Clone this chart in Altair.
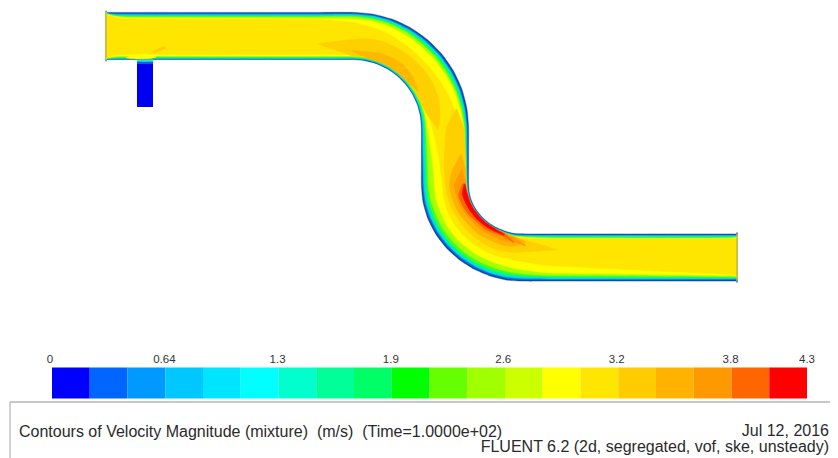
import altair as alt
import pandas as pd
import numpy as np

# --- pipe centreline (pixel-like units) ---
cx = [106,125,240,320,353, 369.0,384.5,399.0,412.1,423.5,432.7,439.5,443.6, 445,445,445,445,
      446.2,449.8,455.7,463.7,473.6,485.0,497.6,511.1, 525,555,720,737]
cy = [36,36,36,36,36, 37.4,41.5,48.3,57.5,68.9,82.0,96.5,112.0, 128,155,170,185,
      197.7,210.0,221.5,231.9,240.9,248.2,253.6,256.9, 257.5,257.5,257.5,257.5]
half_width = 23.6

# contour insets from each wall at every station
wall_colors = ["#0a78e0", "#00d8e8", "#00f59a", "#40ff20", "#a8ff00", "#ffff00", "#ffe600"]
L = [
 [.8,1.2,1.2,1.2,1.2,1.2,1.2,1.4,1.5,1.5,1.5,1.5,1.5,1.2,1,1,.8,.6,.6,.6,.6,.6,.6,.6,.6,.8,1,1,1],
 [1,2.2,2.2,2.2,2,2,2.2,2.4,2.6,2.6,2.6,2.6,2.4,2,1.8,1.6,1.4,1.1,1.1,1.1,1.1,1.1,1.1,1.1,1.4,1.6,1.6,1.6,1.6],
 [1.2,3,3,3,2.8,3,3.2,3.5,3.8,3.8,3.8,3.8,3.4,2.8,2.4,2.2,1.8,1.4,1.4,1.4,1.4,1.4,1.4,1.4,1.8,2.2,2.4,2.6,2.2],
 [1.3,3.8,3.8,3.8,3.7,4.2,4.6,5,5.4,5.4,5.4,5.2,4.6,3.5,3,2.6,2.1,1.7,1.6,1.6,1.6,1.6,1.6,1.7,2.2,2.6,3.2,3.4,2.6],
 [1.4,4.5,4.5,4.5,4.5,5,5.5,6,7,7,7,6.5,5.5,4,3.5,3,2.5,2,1.8,1.8,1.8,1.8,1.8,2,2.5,3,4,4,3],
 [1.6,5,5.5,6,6.5,7,8,9,9.5,9.5,9,8,7,5,4,3.5,3,2.2,2,2,2,2,2,2.2,3,3.5,4.5,4.5,3.5],
 [1.8,6,6.5,7,10,13,15,17,18,18,17,15,12,7,4.5,3.5,3,2.5,2.2,2.2,2.2,2.2,2.2,2.5,3.5,4,5,5,4],
]
R = [
 [.6,.6,.6,.6,.6,.6,.6,.6,.6,.6,.6,.6,.6,.6,.8,1,1.2,1.3,1.4,1.5,1.5,1.5,1.5,1.5,1.4,1.3,1.2,1.2,1.2],
 [.9,1.1,1.1,1.1,1.1,1.1,1.1,1.1,1.1,1.1,1.1,1.1,1.1,1.3,1.7,2,2.3,2.6,3,3,3,3,3,3,3,2.6,2.2,2.2,2.2],
 [1.1,1.7,1.7,1.7,1.7,1.7,1.7,1.7,1.7,1.7,1.7,1.9,2.1,2.5,3,3.4,3.8,4.2,4.5,4.5,4.5,4.5,4.5,4.5,4.5,4,3.4,3,3],
 [1.2,2.3,2.3,2.3,2.3,2.3,2.3,2.3,2.3,2.3,2.3,2.6,3,3.5,4.5,5,5.5,6,6.5,6.5,6.5,6.5,6.5,6.5,6.5,5.5,4.5,3.8,3.5],
 [1.4,3,3,3,3,3,3,3,3,3,3,3.5,4,4.5,6,6.5,7,8,9,9,9,9,9,9,8.5,7,5.5,4.5,4],
 [1.6,3.5,3.5,3.5,3.5,3.5,3.5,3.5,3.5,3.5,4,4.5,5,6,10,12,13,13.5,14,14,14,14,14,14,13,11,8,5.5,4.5],
 [1.8,5,5,5,4.5,4.5,4.5,4,4,4,5,6,8,11,17,19,21,21,21,21,21,21,21,21,21,19,15,7,5.5],
]

# interior contour patches: (colour, first station, insets left, insets right)
patches = [
 ("#ffd000", 3, [31,27,25,24,24,24,24,24,25,27,30], [15,3.5,3.5,3.5,3.5,3.5,3.5,3.5,4,7,16]),
 ("#ffb800", 4, [38,38,36,35,35,37,40], [8,3,2.5,2.5,2.5,3,6]),
 ("#ffd000", 12, [10,5,3,3,2.5,2.5,2.2,2,2,2,2,2.5,3.5,6,15], [36,25,23,23,24,25,26,27,27,27,27,27,28,29,31]),
 ("#ffb300", 14, [7,3,2.5,2.2,2,2,1.8,1.8,1.8,2,3,8], [39,31,28,29,30,31,32,32,33,33,34,38]),
 ("#ff9900", 15, [6,2.5,2,1.8,1.8,1.8,1.8,2,2.5,4,11], [40,33,34,35,36,37,37,38,38,39,35]),
 ("#ff6600", 16, [5,2,1.8,1.6,1.6,1.6,1.8,2,8], [41,36,37,38,40,40,41,42,38]),
 ("#ff0000", 16, [3.5,2,1.8,1.6,1.5,1.5,1.5,3], [42.5,40,41,41.5,42,42.5,43,43]),
]

# small blobs by the side inlet
blob_yellow_x = [126,135,146,156,150,140,130]
blob_yellow_y = [57.5,54.5,54,57,58.5,59,58.5]
blob_orange_x = [153,158,164,166,160,154]
blob_orange_y = [52,49,46.5,47.5,51,53]

# side inlet
inlet_x0, inlet_x1 = 137, 153
inlet_y = [59, 60.5, 62, 64, 107]
inlet_colors = ["#20d090", "#00c8f0", "#0060e8", "#0000f0"]

# colour bar
bar_colors = ["#0000ff","#0066ff","#0099ff","#00c8ff","#00e5ff","#00ffff","#00ffcc","#00ff99","#00ff66","#00ff00",
              "#66ff00","#a0ff00","#ccff00","#ffff00","#ffe600","#ffcc00","#ffb300","#ff9900","#ff6600","#ff0000"]
bar_edges = [0,.215,.43,.645,.86,1.075,1.29,1.505,1.72,1.935,2.15,2.365,2.58,2.795,3.01,3.225,3.44,3.655,3.87,4.085,4.3]
tick_pos = [-.011,.64,1.285,1.93,2.57,3.216,3.865,4.3]
tick_labels = ["0","0.64","1.3","1.9","2.6","3.2","3.8","4.3"]

PW, PH = 822, 450
xs = alt.Scale(domain=[8, 8 + PW], range=[0, PW], nice=False, zero=False)
ys = alt.Scale(domain=[8, 8 + PH], range=[0, PH], nice=False, zero=False)
vs = alt.Scale(domain=[0, 4.3], range=[44, 799], nice=False, zero=False)
X = lambda f="x": alt.X(f"{f}:Q", scale=xs, axis=None)
Y = lambda f="y": alt.Y(f"{f}:Q", scale=ys, axis=None)

cxa, cya = np.array(cx, float), np.array(cy, float)
tx, ty = np.gradient(cxa), np.gradient(cya)
nrm = np.hypot(tx, ty)
nx, ny = ty / nrm, -tx / nrm

def poly(px, py, color):
    df = pd.DataFrame({"x": px, "y": py, "i": range(len(px))})
    return alt.Chart(df).mark_line(fill=color, stroke=color, strokeWidth=0.4, strokeJoin="round",
                                   interpolate="cardinal-closed", tension=0.45).encode(
        x=X(), y=Y(), order="i:Q")

def band(start, lft, rgt, color):
    idx = np.arange(start, start + len(lft))
    dl = half_width - np.array(lft, float)
    dr = half_width - np.array(rgt, float)
    ax = list(cxa[idx] + nx[idx] * dl)
    ay = list(cya[idx] + ny[idx] * dl)
    bx = list(cxa[idx] - nx[idx] * dr)
    by = list(cya[idx] - ny[idx] * dr)
    # repeat corner points so the end faces stay square
    ax = [ax[0]] * 2 + ax + [ax[-1]] * 2
    ay = [ay[0]] * 2 + ay + [ay[-1]] * 2
    bx = [bx[0]] * 2 + bx + [bx[-1]] * 2
    by = [by[0]] * 2 + by + [by[-1]] * 2
    return poly(ax + bx[::-1], ay + by[::-1], color)

zeros = [0] * len(cx)
layers = [band(0, zeros, zeros, "#17409f")]
for c, l, r in zip(wall_colors, L, R):
    layers.append(band(0, l, r, c))
for c, s, l, r in patches:
    layers.append(band(s, l, r, c))
layers.append(poly(blob_yellow_x, blob_yellow_y, "#ffff00"))
layers.append(poly(blob_orange_x, blob_orange_y, "#ffcc00"))

# inlet stub
inlet_df = pd.DataFrame({"x": [inlet_x0] * 4, "x2": [inlet_x1] * 4, "y": inlet_y[:-1], "y2": inlet_y[1:], "c": inlet_colors})
layers.append(alt.Chart(inlet_df).mark_rect().encode(x=X(), x2="x2:Q", y=Y(), y2="y2:Q", color=alt.Color("c:N", scale=None, legend=None)))

# end faces
ends = pd.DataFrame({"x": [106, 737], "y": [12.4, 233.9], "y2": [59.6, 281.1]})
layers.append(alt.Chart(ends).mark_rule(color="#c8a850", strokeWidth=1.2).encode(x=X(), y=Y(), y2="y2:Q"))

# colour bar
bar_df = pd.DataFrame({"v": bar_edges[:-1], "v2": bar_edges[1:], "c": bar_colors, "y": [367.5] * 20, "y2": [398.5] * 20})
layers.append(alt.Chart(bar_df).mark_rect().encode(
    x=alt.X("v:Q", scale=vs, axis=None), x2="v2:Q", y=Y(), y2="y2:Q", color=alt.Color("c:N", scale=None, legend=None)))
tick_df = pd.DataFrame({"v": tick_pos, "t": tick_labels, "y": [362.5] * 8})
layers.append(alt.Chart(tick_df).mark_text(font="Liberation Sans", fontSize=11.5, color="#333333", baseline="alphabetic", align="center").encode(
    x=alt.X("v:Q", scale=vs, axis=None), y=Y(), text="t:N"))

# caption frame
frame_h = pd.DataFrame({"x": [10], "x2": [830], "y": [402]})
frame_v = pd.DataFrame({"x": [10], "y": [402], "y2": [458]})
layers.append(alt.Chart(frame_h).mark_rule(color="#b4b4b4", strokeWidth=1.4).encode(x=X(), x2="x2:Q", y=Y()))
layers.append(alt.Chart(frame_v).mark_rule(color="#b4b4b4", strokeWidth=1.2).encode(x=X(), y=Y(), y2="y2:Q"))

cap = pd.DataFrame({
    "x": [19, 829, 829], "y": [437, 436, 452],
    "t": ["Contours of Velocity Magnitude (mixture)\u00a0 (m/s)\u00a0 (Time=1.0000e+02)", "Jul 12, 2016",
          "FLUENT 6.2 (2d, segregated, vof, ske, unsteady)"],
    "a": ["left", "right", "right"]})
for a in ["left", "right"]:
    layers.append(alt.Chart(cap[cap.a == a]).mark_text(font="Liberation Sans", fontSize=16, color="#2a2a2a", baseline="alphabetic", align=a).encode(
        x=X(), y=Y(), text="t:N"))

chart = alt.layer(*layers).resolve_scale(x="independent", y="shared").properties(
    width=PW, height=PH, padding=0, autosize=alt.AutoSizeParams(type="none")
).configure_view(stroke=None)
chart.save("out.html", embed_options={"renderer": "svg", "actions": False})
